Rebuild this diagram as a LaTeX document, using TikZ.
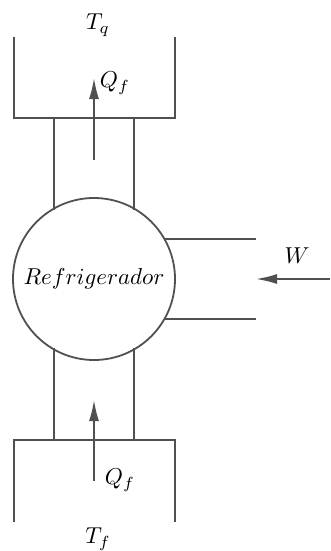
\documentclass[tikz,border=0pt]{standalone}
\usetikzlibrary{arrows.meta}
\newcommand{\mylbl}[1]{\scalebox{2.3}{$#1$}}
\begin{document}
\begin{tikzpicture}[x=1pt,y=-1pt,
  wall/.style={draw=linec,line width=1.8pt},
  flow/.style={draw=linec,line width=1.8pt,-{Latex[length=21pt,width=10pt]}},
  lbl/.style={inner sep=0pt}]
\definecolor{linec}{HTML}{505050}
\useasboundingbox (0,0) rectangle (330,551);
% top reservoir
\draw[wall] (14,37) -- (14,118) -- (175,118) -- (175,37);
% bottom reservoir
\draw[wall] (14,522) -- (14,440) -- (175,440) -- (175,522);
% refrigerator
\node[draw=linec,line width=1.8pt,circle,minimum size=162pt,inner sep=0pt] (ref) at (94,279) {\mylbl{Refrigerador}};
% columns
\draw[wall] (54,118) -- (54,209.6);
\draw[wall] (134,118) -- (134,209.6);
\draw[wall] (54,348.4) -- (54,440);
\draw[wall] (134,348.4) -- (134,440);
% side channel
\draw[wall] (164.4,239) -- (256,239);
\draw[wall] (164.4,319) -- (256,319);
% arrows
\coordinate (a1s) at (94,160);
\coordinate (a1e) at (94,78);
\draw[flow] (a1s) -- (a1e);
\coordinate (a2s) at (94,481);
\coordinate (a2e) at (94,400);
\draw[flow] (a2s) -- (a2e);
\coordinate (ws) at (330,279);
\coordinate (we) at (256,279);
\draw[flow] (ws) -- (we);
% labels
\node[lbl] (tq) at (98,25) {\mylbl{T_q}};
\node[lbl] (qf1) at (115,83) {\mylbl{Q_f}};
\node[lbl] (w) at (297,256) {\mylbl{W}};
\node[lbl] (qf2) at (120,480) {\mylbl{Q_f}};
\node[lbl] (tf) at (98,539) {\mylbl{T_f}};
\end{tikzpicture}
\end{document}
